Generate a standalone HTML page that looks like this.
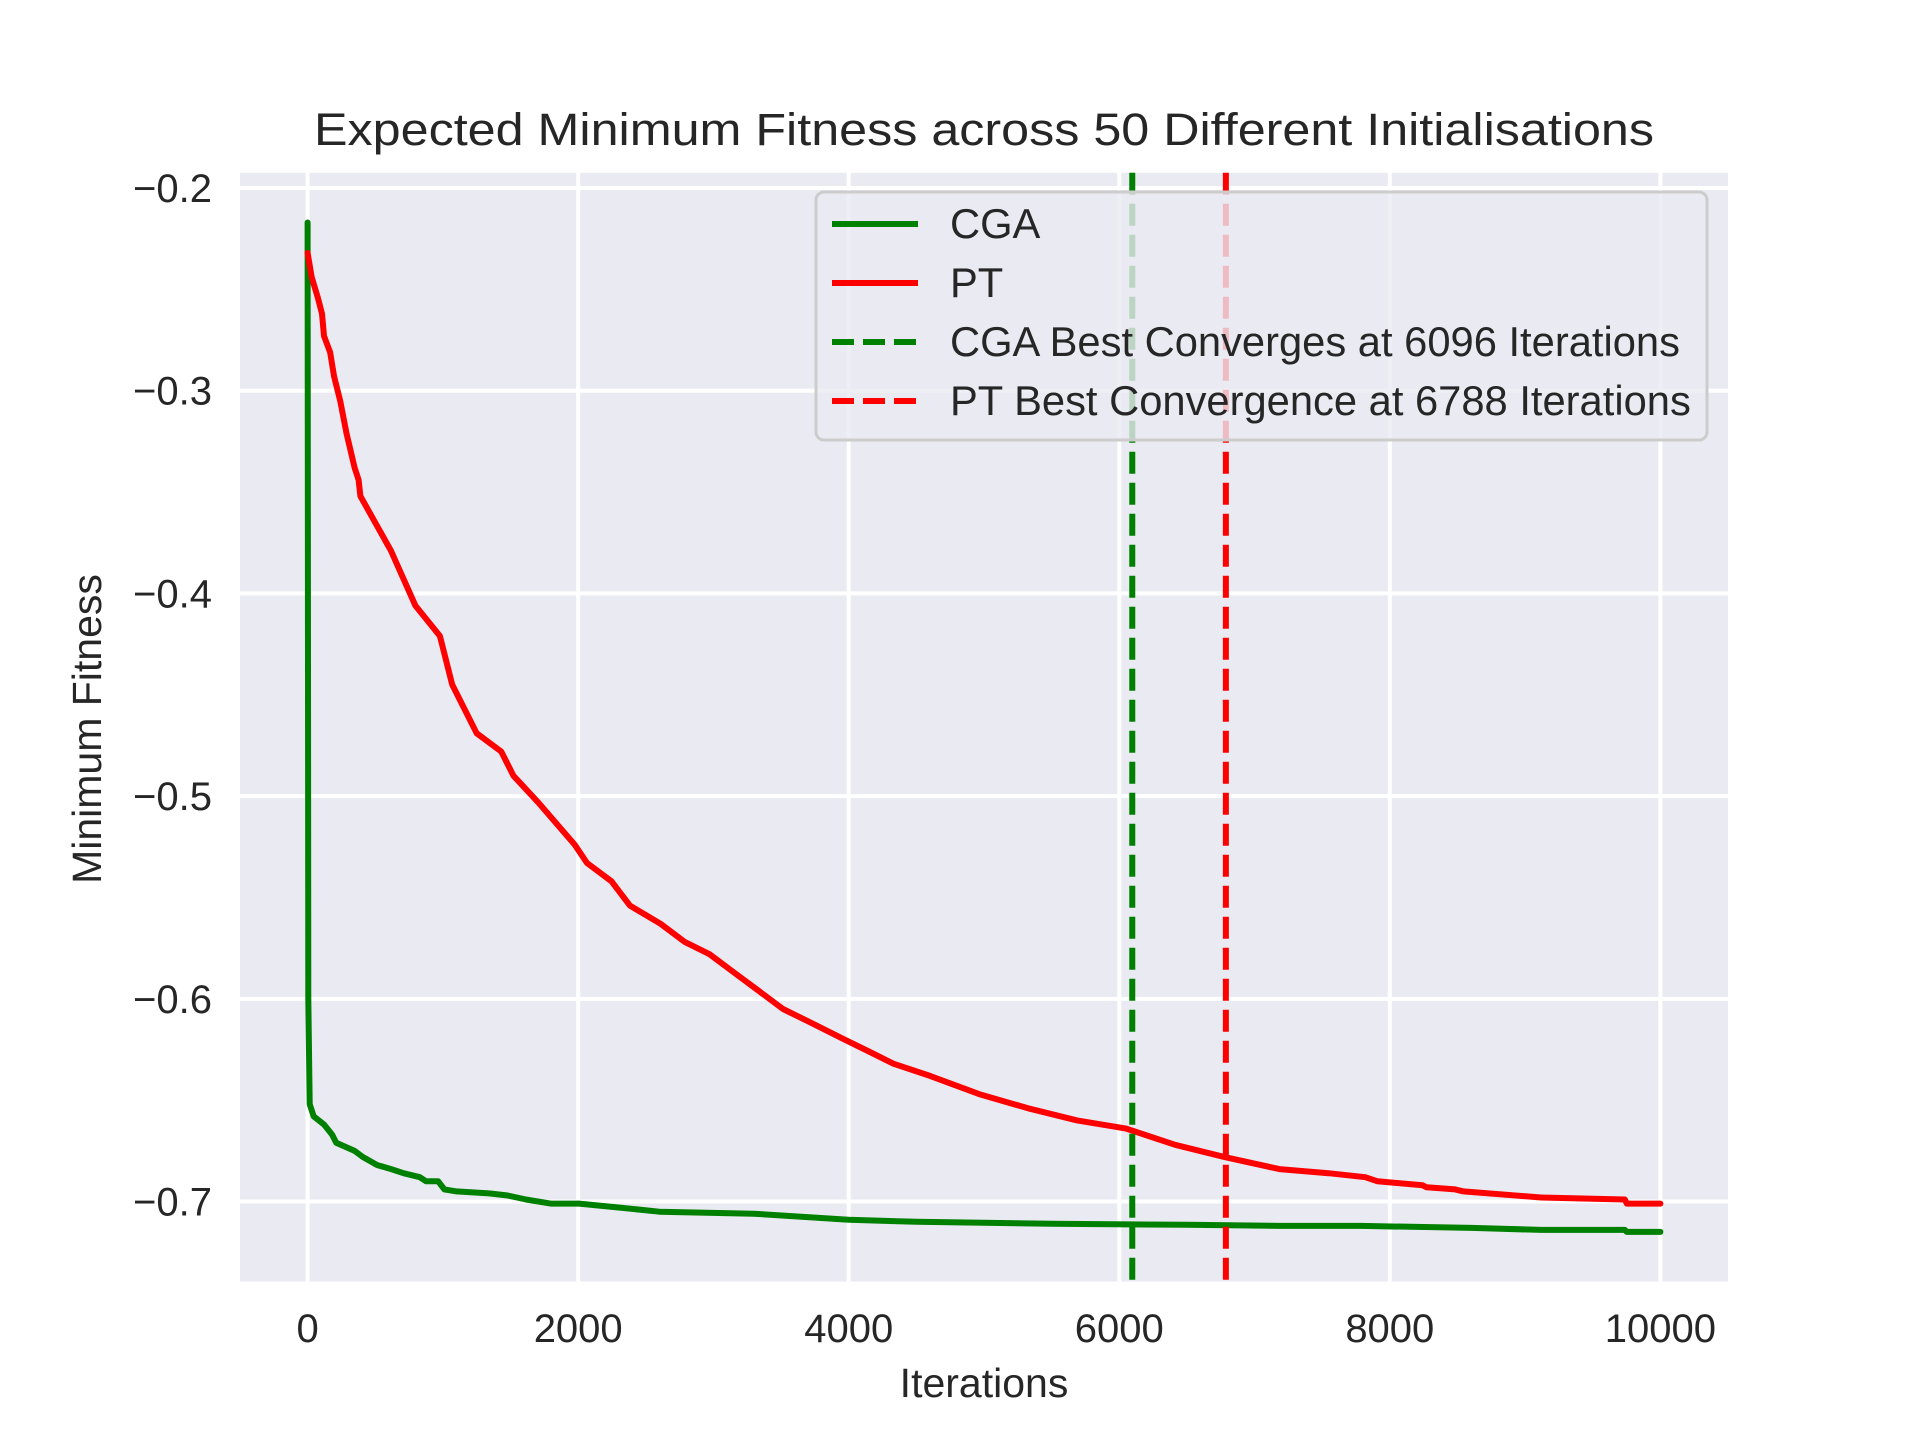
<!DOCTYPE html>
<html><head><meta charset="utf-8"><style>
html,body{margin:0;padding:0;background:#fff}
svg{display:block;font-family:"Liberation Sans",Arial,sans-serif}
</style></head><body>
<svg id="chart" width="1920" height="1440" viewBox="0 0 1920 1440" xmlns="http://www.w3.org/2000/svg">
<rect x="240" y="172.8" width="1488" height="1108.8" fill="#eaeaf2"/>
<g id="grid"></g>
<g id="series"></g>
<g id="ticks" fill="#262626" font-size="40"></g>
<text x="984" y="145" text-anchor="middle" font-size="45" fill="#262626" textLength="1340" lengthAdjust="spacingAndGlyphs">Expected Minimum Fitness across 50 Different Initialisations</text>
<text x="984" y="1397" text-anchor="middle" font-size="41" fill="#262626">Iterations</text>
<text x="0" y="0" transform="translate(101,729) rotate(-90)" text-anchor="middle" font-size="41" fill="#262626">Minimum Fitness</text>
<g id="legend">
<rect x="816" y="192" width="891" height="248" rx="8" fill="#eaeaf2" fill-opacity="0.8" stroke="#cccccc" stroke-width="3"/>
<line x1="832" y1="224" x2="918" y2="224" stroke="#008000" stroke-width="6"/>
<text x="950" y="238" font-size="41.7" fill="#262626">CGA</text>
<line x1="832" y1="283" x2="918" y2="283" stroke="#ff0000" stroke-width="6"/>
<text x="950" y="297" font-size="41.7" fill="#262626">PT</text>
<line x1="832" y1="342" x2="918" y2="342" stroke="#008000" stroke-width="6" stroke-dasharray="22,9"/>
<text x="950" y="356" font-size="41.7" fill="#262626">CGA Best Converges at 6096 Iterations</text>
<line x1="832" y1="401" x2="918" y2="401" stroke="#ff0000" stroke-width="6" stroke-dasharray="22,9"/>
<text x="950" y="415" font-size="41.7" fill="#262626">PT Best Convergence at 6788 Iterations</text>
</g>
</svg>
<script>
const xTicks = [0, 2000, 4000, 6000, 8000, 10000];
const yTicks = [-0.2, -0.3, -0.4, -0.5, -0.6, -0.7];
const yTickLabels = ["\u22120.2", "\u22120.3", "\u22120.4", "\u22120.5", "\u22120.6", "\u22120.7"];
const cgaX = [0, 5, 15, 45, 121, 181, 211, 347, 407, 513, 618, 709, 830, 875, 965, 1011, 1101, 1342, 1478, 1614, 1795, 2006, 2308, 2600, 3300, 4000, 4500, 5500, 6500, 7184, 7789, 8604, 9118, 9737, 9752, 10000];
const cgaY = [-0.217, -0.60, -0.652, -0.658, -0.662, -0.667, -0.671, -0.675, -0.678, -0.682, -0.684, -0.686, -0.688, -0.690, -0.690, -0.694, -0.695, -0.696, -0.697, -0.699, -0.701, -0.701, -0.703, -0.705, -0.706, -0.709, -0.710, -0.711, -0.7115, -0.712, -0.712, -0.713, -0.714, -0.714, -0.715, -0.715];
const ptX = [0, 30, 75, 106, 121, 166, 196, 241, 287, 347, 377, 390, 616, 797, 978, 1069, 1250, 1431, 1522, 1703, 1975, 2065, 2246, 2382, 2609, 2790, 2971, 3152, 3333, 3514, 3696, 3967, 4149, 4330, 4601, 4964, 5326, 5688, 6051, 6413, 6775, 7184, 7547, 7819, 7909, 8242, 8272, 8483, 8544, 9118, 9737, 9752, 10000];
const ptY = [-0.232, -0.244, -0.254, -0.262, -0.273, -0.281, -0.293, -0.305, -0.321, -0.338, -0.344, -0.352, -0.379, -0.406, -0.421, -0.445, -0.469, -0.478, -0.490, -0.503, -0.524, -0.533, -0.542, -0.554, -0.563, -0.572, -0.578, -0.587, -0.596, -0.605, -0.611, -0.620, -0.626, -0.632, -0.638, -0.647, -0.654, -0.660, -0.664, -0.672, -0.678, -0.684, -0.686, -0.688, -0.690, -0.692, -0.693, -0.694, -0.695, -0.698, -0.699, -0.701, -0.701];
const cgaBest = [6096];
const ptBest = [6788];

const L = 240, R = 1728, T = 172.8, B = 1281.6;
const xMin = -500, xMax = 10500, yMin = -0.7395, yMax = -0.1925;
function sx(v) { return L + (v - xMin) / (xMax - xMin) * (R - L); }
function sy(v) { return B - (v - yMin) / (yMax - yMin) * (B - T); }
const NS = "http://www.w3.org/2000/svg";
function mk(tag, attrs, parent) {
  const e = document.createElementNS(NS, tag);
  for (const k in attrs) e.setAttribute(k, attrs[k]);
  parent.appendChild(e);
  return e;
}
const grid = document.getElementById('grid');
const ticks = document.getElementById('ticks');
const series = document.getElementById('series');
xTicks.forEach(v => {
  const g = mk('line', {x1: sx(v), x2: sx(v), y1: T, y2: B, stroke: '#fff', 'stroke-width': 4}, grid);
  
  
  const t = mk('text', {x: sx(v), y: 1342, 'text-anchor': 'middle'}, ticks);
  t.textContent = String(v);
  
  
});
yTicks.forEach((v, i) => {
  const g = mk('line', {x1: L, x2: R, y1: sy(v), y2: sy(v), stroke: '#fff', 'stroke-width': 4}, grid);
  
  
  const t = mk('text', {x: 212, y: sy(v) + 14, 'text-anchor': 'end'}, ticks);
  t.textContent = yTickLabels[i];
  
  
});
function path(xs, ys) { return xs.map((x, i) => (i ? 'L' : 'M') + sx(x).toFixed(1) + ' ' + sy(ys[i]).toFixed(1)).join(' '); }
const pc = mk('path', {d: path(cgaX, cgaY), fill: 'none', stroke: '#008000', 'stroke-width': 6, 'stroke-linejoin': 'round', 'stroke-linecap': 'round'}, series);


const pp = mk('path', {d: path(ptX, ptY), fill: 'none', stroke: '#ff0000', 'stroke-width': 6, 'stroke-linejoin': 'round', 'stroke-linecap': 'round'}, series);


const vc = mk('line', {x1: sx(cgaBest[0]), x2: sx(cgaBest[0]), y1: T, y2: B, stroke: '#008000', 'stroke-width': 6, 'stroke-dasharray': '22,9'}, series);


const vp = mk('line', {x1: sx(ptBest[0]), x2: sx(ptBest[0]), y1: T, y2: B, stroke: '#ff0000', 'stroke-width': 6, 'stroke-dasharray': '22,9'}, series);


</script>
</body></html>
